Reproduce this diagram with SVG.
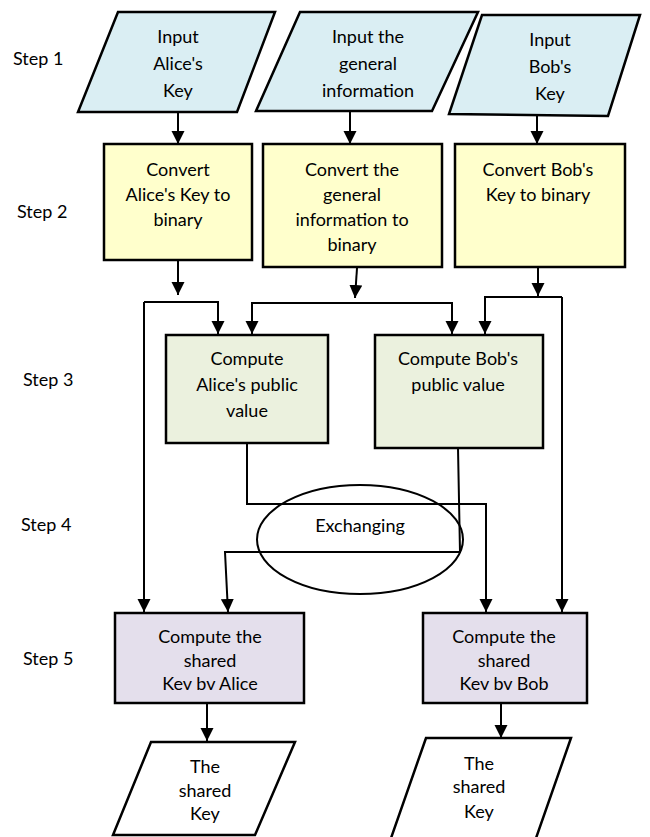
<svg xmlns="http://www.w3.org/2000/svg" width="650" height="837" viewBox="0 0 650 837">
<style>
.t{font-family:Lato,"Liberation Sans",sans-serif;font-size:18px;fill:#000;text-anchor:middle}
.s{font-family:Lato,"Liberation Sans",sans-serif;font-size:18px;fill:#000}
.n{stroke:#000;stroke-width:2.5}
.c{fill:none;stroke:#000;stroke-width:2;marker-end:url(#ah)}
.l{fill:none;stroke:#000;stroke-width:2}
</style>
<defs>
<marker id="ah" markerUnits="userSpaceOnUse" markerWidth="14" markerHeight="14" refX="13" refY="6.5" orient="auto">
<path d="M0,0 L13,6.5 L0,13 z" fill="#000"/>
</marker>
</defs>
<g id="steps">
<text class="s" x="13" y="65">Step 1</text>
<text class="s" x="17" y="218">Step 2</text>
<text class="s" x="23" y="386">Step 3</text>
<text class="s" x="21" y="531">Step 4</text>
<text class="s" x="23" y="665">Step 5</text>
</g>
<g id="connectors">
<path class="c" d="M178,112 V144"/>
<path class="c" d="M350,111 V144"/>
<path class="c" d="M537,115 V144"/>
<path class="c" d="M178,260 V295"/>
<path class="c" d="M144,302 H218 V334"/>
<path class="c" d="M144,302 V612"/>
<path class="c" d="M357,268 L355,298"/>
<path class="c" d="M352,303 H252 V334"/>
<path class="c" d="M352,303 H452 V334"/>
<path class="c" d="M538,267 V296"/>
<path class="c" d="M562,297 H485 V334"/>
<path class="c" d="M562,297 V612"/>
<path class="c" d="M247,443 V504 H486 V612"/>
<path class="c" d="M458,448 L460,552 H225 L228,612"/>
<path class="c" d="M207,703 V741"/>
<path class="c" d="M501,703 V738"/>
</g>
<g id="input-alice">
<polygon class="n" points="118,12 275,12 237,112 78,112" fill="#daeef3"/>
<text class="t" x="178" y="43">Input</text>
<text class="t" x="178" y="70">Alice's</text>
<text class="t" x="178" y="97">Key</text>
</g>
<g id="input-general">
<polygon class="n" points="300,12 478,12 432,111 256,111" fill="#daeef3"/>
<text class="t" x="368" y="43">Input the</text>
<text class="t" x="368" y="70">general</text>
<text class="t" x="368" y="97">information</text>
</g>
<g id="input-bob">
<polygon class="n" points="482,15 640,15 608,116 449,114" fill="#daeef3"/>
<text class="t" x="550" y="46">Input</text>
<text class="t" x="550" y="73">Bob's</text>
<text class="t" x="550" y="100">Key</text>
</g>
<g id="convert-alice">
<rect class="n" x="104" y="144" width="148" height="116" fill="#ffffcc"/>
<text class="t" x="178" y="176">Convert</text>
<text class="t" x="178" y="201">Alice's Key to</text>
<text class="t" x="178" y="226">binary</text>
</g>
<g id="convert-general">
<rect class="n" x="263" y="144" width="179" height="123" fill="#ffffcc"/>
<text class="t" x="352" y="176">Convert the</text>
<text class="t" x="352" y="201">general</text>
<text class="t" x="352" y="226">information to</text>
<text class="t" x="352" y="251">binary</text>
</g>
<g id="convert-bob">
<rect class="n" x="455" y="144" width="170" height="123" fill="#ffffcc"/>
<text class="t" x="538" y="176">Convert Bob's</text>
<text class="t" x="538" y="201">Key to binary</text>
</g>
<g id="public-alice">
<rect class="n" x="166" y="335" width="162" height="108" fill="#ebf1de"/>
<text class="t" x="247" y="365">Compute</text>
<text class="t" x="247" y="391">Alice's public</text>
<text class="t" x="247" y="417">value</text>
</g>
<g id="public-bob">
<rect class="n" x="375" y="335" width="168" height="113" fill="#ebf1de"/>
<text class="t" x="458" y="365">Compute Bob's</text>
<text class="t" x="458" y="391">public value</text>
</g>
<g id="exchanging">
<ellipse cx="360" cy="539.5" rx="103" ry="54.5" fill="none" stroke="#000" stroke-width="2"/>
<text class="t" x="360" y="532">Exchanging</text>
</g>
<g id="shared-alice">
<rect class="n" x="115" y="613" width="189" height="90" fill="#e4dfec"/>
<text class="t" x="210" y="643">Compute the</text>
<text class="t" x="210" y="667">shared</text>
<text class="t" x="210" y="690">Kev bv Alice</text>
</g>
<g id="shared-bob">
<rect class="n" x="423" y="613" width="164" height="90" fill="#e4dfec"/>
<text class="t" x="504" y="643">Compute the</text>
<text class="t" x="504" y="667">shared</text>
<text class="t" x="504" y="690">Kev bv Bob</text>
</g>
<g id="key-alice">
<polygon class="n" points="151,742 295,742 255,835 113,835" fill="#fff"/>
<text class="t" x="205" y="773">The</text>
<text class="t" x="205" y="797">shared</text>
<text class="t" x="205" y="820">Key</text>
</g>
<g id="key-bob">
<polygon class="n" points="426,738 571,738 535,841 390,841" fill="#fff"/>
<text class="t" x="479" y="770">The</text>
<text class="t" x="479" y="793">shared</text>
<text class="t" x="479" y="818">Key</text>
</g>
</svg>
